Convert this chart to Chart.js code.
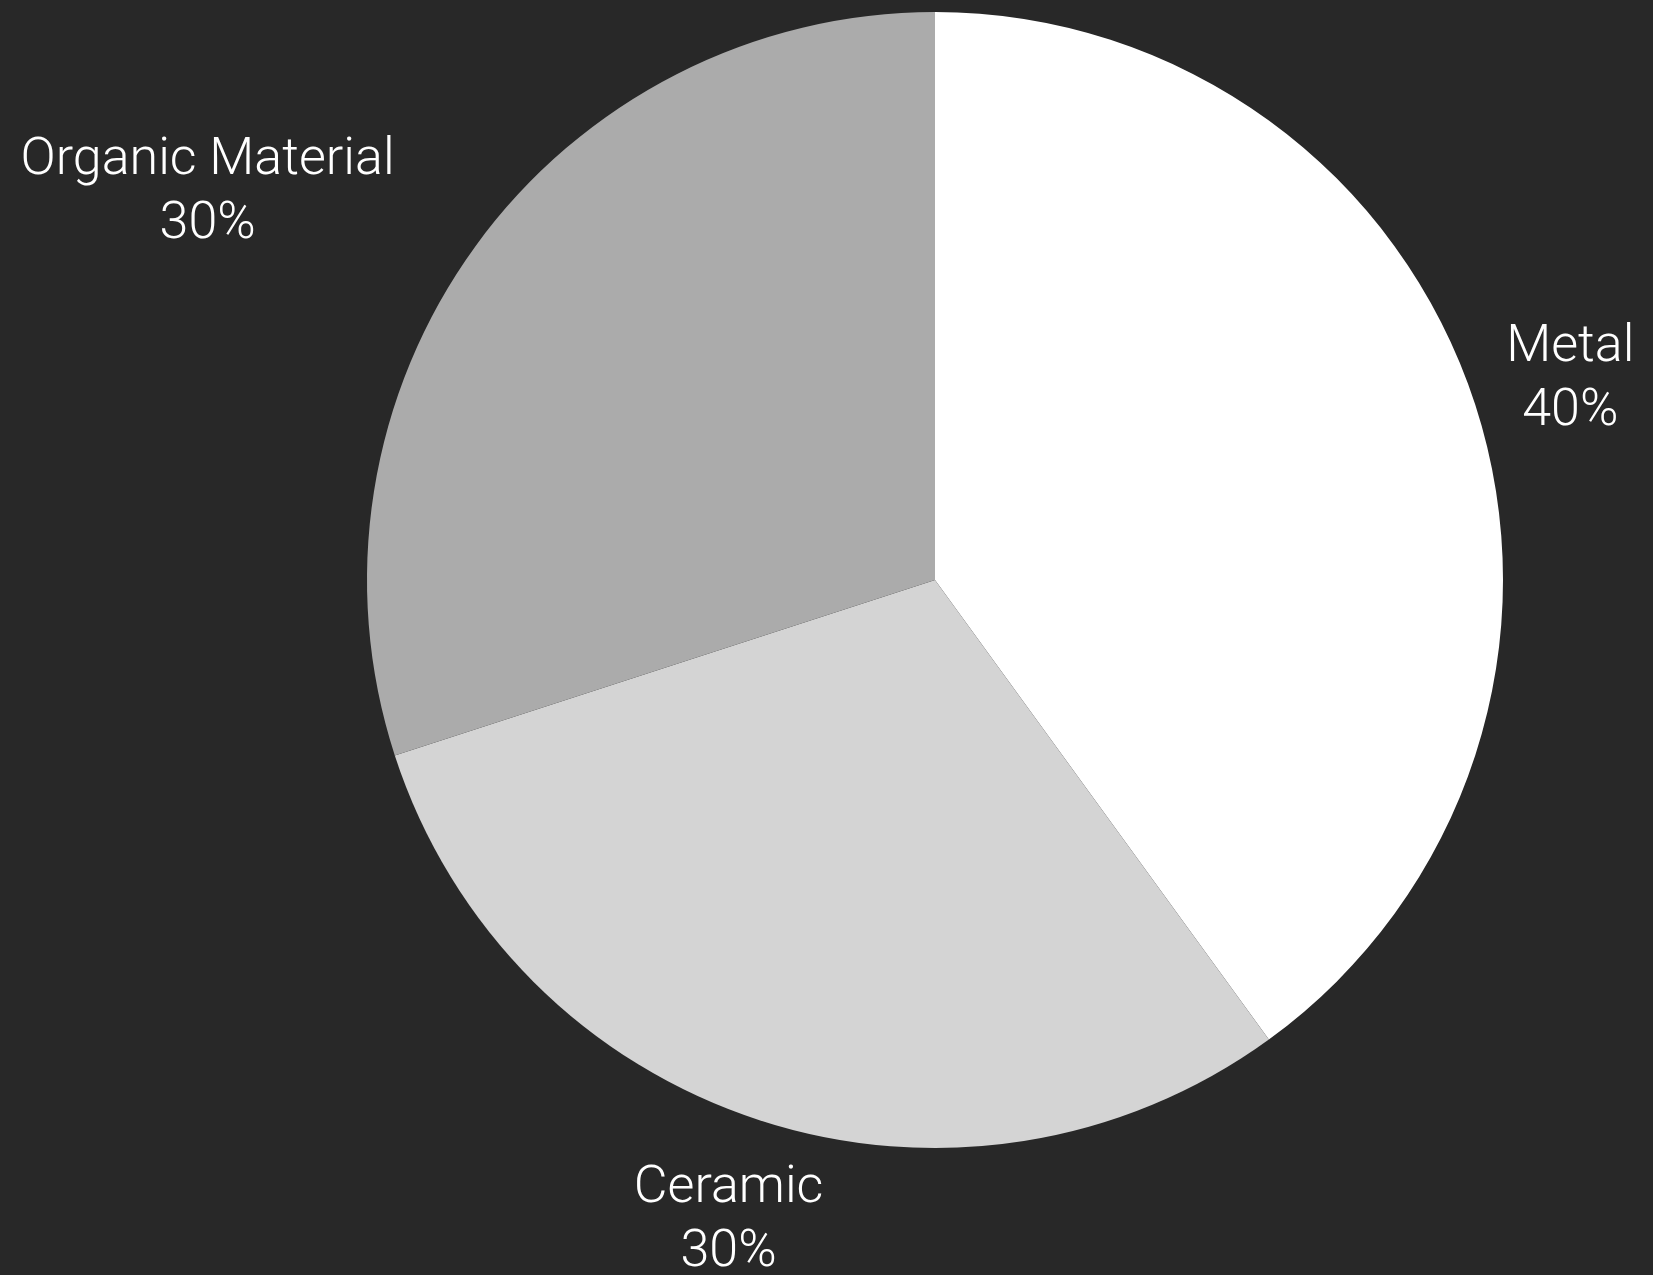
<!DOCTYPE html>
<html>
<head>
<meta charset="utf-8">
<script src="https://cdn.jsdelivr.net/npm/chart.js@4"></script>
<style>
  html, body { margin: 0; padding: 0; background: #282828; }
  canvas { display: block; }
</style>
</head>
<body>
<canvas id="pie-chartcanvas" width="1653" height="1275"></canvas>
<script>
// chart data
var materials = ['Metal', 'Ceramic', 'Organic Material'];
var shares = [40, 30, 30];
var sliceColors = ['#ffffff', '#d4d4d4', '#ababab'];

var labelFont = '300 52px Roboto';
var labelColor = '#ffffff';
var lineGap = 64;

// draws "name / percent" outside each slice, along the slice middle angle
var outsideLabels = {
  id: 'outsideLabels',
  afterDraw: function(chart) {
    var ctx = chart.ctx;
    var meta = chart.getDatasetMeta(0);
    var total = shares.reduce(function(a, b) { return a + b; }, 0);
    ctx.save();
    ctx.font = labelFont;
    ctx.fillStyle = labelColor;
    ctx.textBaseline = 'alphabetic';
    ctx.textAlign = 'center';
    meta.data.forEach(function(arc, i) {
      var p = arc.getProps(['x', 'y', 'startAngle', 'endAngle', 'outerRadius'], true);
      var mid = (p.startAngle + p.endAngle) / 2;
      var dist = p.outerRadius * 1.176;
      var ax = p.x + Math.cos(mid) * dist;
      var ay = p.y + Math.sin(mid) * dist;
      var pct = Math.round(shares[i] / total * 100) + '%';
      var w = Math.max(ctx.measureText(materials[i]).width, ctx.measureText(pct).width);
      // centred box, unless it would run into the pie
      var left = ax - w / 2, right = ax + w / 2, top = ay - 50, bottom = ay + 50;
      var nx = Math.max(left, Math.min(p.x, right));
      var ny = Math.max(top, Math.min(p.y, bottom));
      var cx = ax;
      if (Math.hypot(nx - p.x, ny - p.y) < p.outerRadius) {
        cx = Math.cos(mid) < 0 ? ax - w / 2 : ax + w / 2;
      }
      ctx.fillText(materials[i], cx, ay - 13);
      ctx.fillText(pct, cx, ay - 13 + lineGap);
    });
    ctx.restore();
  }
};

var chart = new Chart(document.getElementById('pie-chartcanvas'), {
  type: 'pie',
  data: {
    labels: materials,
    datasets: [{
      data: shares,
      backgroundColor: sliceColors,
      borderWidth: 0
    }]
  },
  options: {
    responsive: false,
    animation: false,
    devicePixelRatio: 1,
    layout: { padding: { top: 12, bottom: 127, left: 367, right: 150 } },
    plugins: {
      legend: { display: false },
      tooltip: { enabled: false }
    }
  },
  plugins: [outsideLabels]
});
</script>
</body>
</html>
